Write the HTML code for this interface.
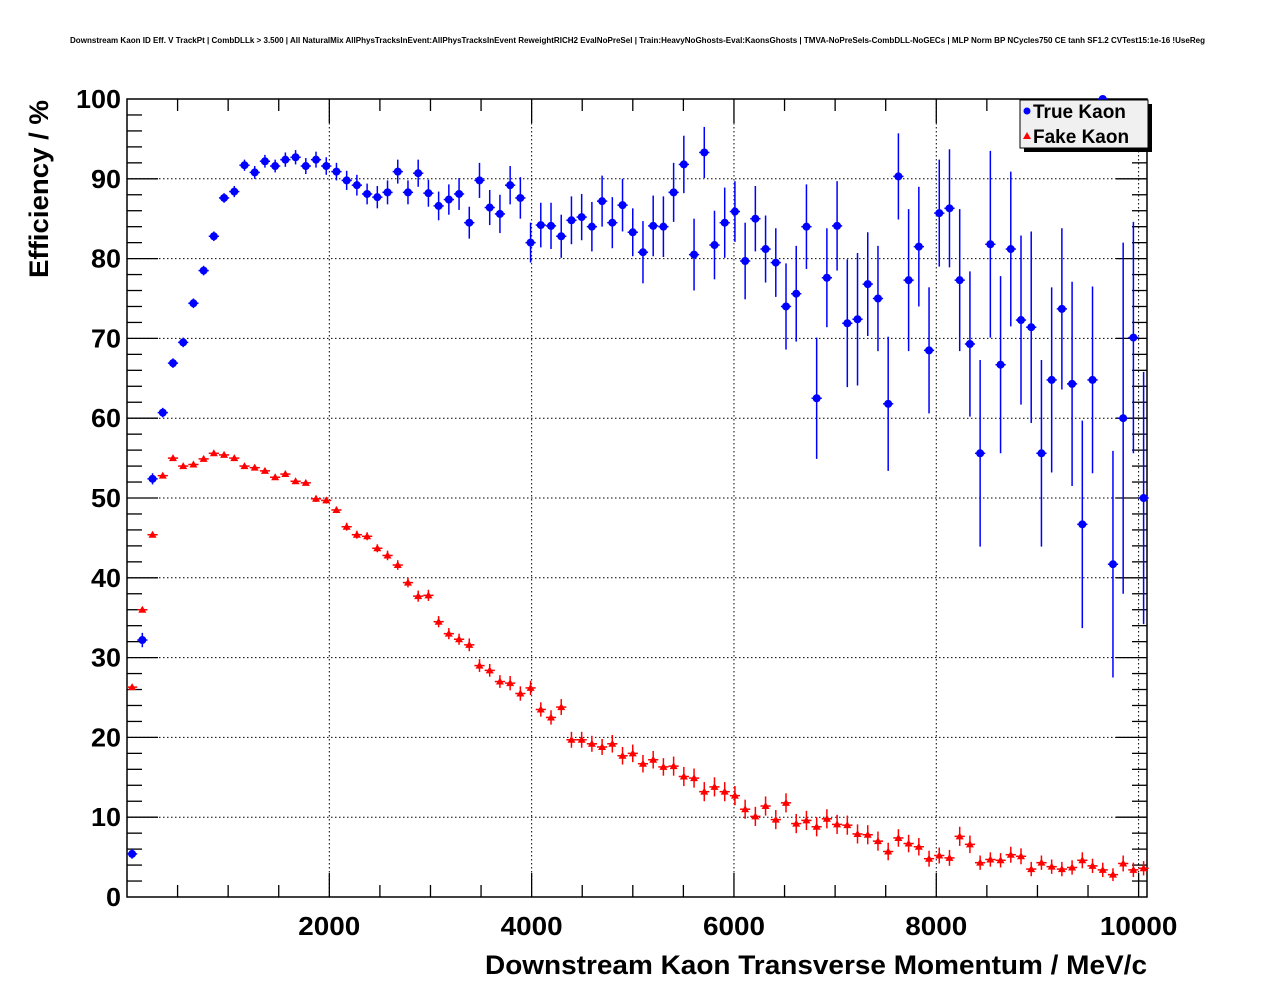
<!DOCTYPE html>
<html><head><meta charset="utf-8"><style>
body{margin:0;background:#fff;}
svg{display:block;font-family:"Liberation Sans",Arial,sans-serif;}
</style></head><body>
<svg id="chart" width="1276" height="996" viewBox="0 0 1276 996" xmlns="http://www.w3.org/2000/svg">
<rect x="0" y="0" width="1276" height="996" fill="#fff"/>
<text x="70" y="43" font-size="8" font-weight="bold" textLength="1135" lengthAdjust="spacingAndGlyphs">Downstream Kaon ID Eff. V TrackPt | CombDLLk &gt; 3.500 | All NaturalMix AllPhysTracksInEvent:AllPhysTracksInEvent ReweightRICH2 EvalNoPreSel | Train:HeavyNoGhosts-Eval:KaonsGhosts | TMVA-NoPreSels-CombDLL-NoGECs | MLP Norm BP NCycles750 CE tanh SF1.2 CVTest15:1e-16 !UseReg</text>
<g id="grid"></g>
<g id="axes"></g>
<g id="trueSeries"></g>
<g id="fakeSeries"></g>
<text x="485" y="974" font-size="27" font-weight="bold" textLength="662" lengthAdjust="spacingAndGlyphs">Downstream Kaon Transverse Momentum / MeV/c</text>
<text transform="translate(48,278) rotate(-90)" font-size="27" font-weight="bold" textLength="178" lengthAdjust="spacingAndGlyphs">Efficiency / %</text>
<g>
<rect x="1024" y="104" width="128" height="48" fill="#000"/>
<rect x="1020" y="100" width="128" height="48" fill="#f0f0f0" stroke="#000" stroke-width="1"/>
<circle cx="1027" cy="111" r="3.5" fill="#0000ff"/>
<text x="1033" y="118" font-size="19" font-weight="bold">True Kaon</text>
<polygon points="1023,139 1027,132 1031,139" fill="#ff0000"/>
<text x="1033" y="143" font-size="19" font-weight="bold">Fake Kaon</text>
</g>
</svg>
<script>
const binWidth = 101;
const trueVals = [5.4,32.2,52.4,60.7,66.9,69.5,74.4,78.5,82.8,87.6,
88.4,91.7,90.8,92.2,91.6,92.4,92.7,91.6,92.4,91.6,
90.9,89.8,89.2,88.1,87.7,88.3,90.9,88.3,90.7,88.2,
86.6,87.4,88.1,84.5,89.8,86.4,85.6,89.2,87.6,82.0,
84.2,84.1,82.8,84.8,85.2,84.0,87.2,84.5,86.7,83.3,
80.8,84.1,84.0,88.3,91.8,80.5,93.3,81.7,84.5,85.9,
79.7,85.0,81.2,79.5,74.0,75.6,84.0,62.5,77.6,84.1,
71.9,72.4,76.8,75.0,61.8,90.3,77.3,81.5,68.5,85.7,
86.3,77.3,69.3,55.6,81.8,66.7,81.2,72.3,71.4,55.6,
64.8,73.7,64.3,46.7,64.8,100,41.7,60.0,70.1,50.0];
const trueErrs = [0.6,0.9,0.7,0.6,0.6,0.6,0.6,0.6,0.6,0.6,
0.7,0.7,0.8,0.8,0.8,0.9,0.9,1.0,1.0,1.1,
1.1,1.2,1.3,1.3,1.4,1.5,1.5,1.5,1.7,1.7,
1.8,1.9,2.0,2.0,2.2,2.2,2.4,2.4,2.6,2.5,
2.8,2.9,2.7,3.0,2.9,3.1,3.2,3.2,3.3,3.0,
3.9,3.8,3.8,3.7,3.6,4.5,3.2,4.3,4.4,3.8,
4.8,4.1,4.2,4.3,5.4,6.0,5.3,7.6,6.2,5.6,
8.0,8.3,6.5,6.6,8.4,5.4,8.9,7.5,7.9,6.7,
7.4,8.9,9.1,11.7,11.7,11.1,9.7,10.6,12.0,11.7,
11.6,10.1,12.8,13.0,11.7,0,14.2,22.0,14.5,15.8];
const fakeVals = [26.3,36.0,45.4,52.8,55.0,54.0,54.2,54.9,55.6,55.4,
55.0,54.0,53.8,53.4,52.6,53.0,52.1,51.9,49.9,49.7,
48.5,46.4,45.4,45.2,43.7,42.8,41.6,39.4,37.7,37.8,
34.5,33.0,32.3,31.6,29.0,28.4,27.0,26.8,25.5,26.2,
23.5,22.5,23.8,19.7,19.7,19.2,18.8,19.2,17.7,18.0,
16.7,17.2,16.3,16.4,15.1,14.9,13.2,13.8,13.2,12.7,
11.0,10.1,11.4,9.7,11.8,9.2,9.6,8.8,9.8,9.1,
9.0,7.9,7.8,7.0,5.7,7.4,6.7,6.3,4.8,5.2,
4.9,7.6,6.6,4.3,4.7,4.6,5.3,5.1,3.5,4.3,
3.8,3.5,3.7,4.6,3.9,3.4,2.8,4.2,3.4,3.6];
const fakeErrs = [0.3,0.3,0.3,0.3,0.3,0.3,0.3,0.3,0.3,0.3,
0.3,0.3,0.3,0.3,0.3,0.3,0.3,0.3,0.4,0.4,
0.4,0.5,0.5,0.5,0.5,0.6,0.6,0.6,0.7,0.7,
0.7,0.7,0.7,0.8,0.8,0.8,0.8,0.9,0.9,0.9,
0.9,0.9,1.0,1.0,1.0,1.0,1.0,1.1,1.1,1.1,
1.1,1.1,1.1,1.2,1.2,1.2,1.2,1.2,1.2,1.2,
1.2,1.2,1.2,1.2,1.2,1.2,1.2,1.2,1.2,1.2,
1.2,1.2,1.2,1.2,1.1,1.1,1.1,1.1,1.0,1.0,
1.0,1.2,1.1,0.9,0.9,0.9,1.0,1.0,0.9,0.9,
0.9,0.9,0.9,1.0,0.9,0.9,0.8,1.0,0.9,0.9];
const xTicks = [2000,4000,6000,8000,10000];
const yTicks = [0,10,20,30,40,50,60,70,80,90,100];

const NS = 'http://www.w3.org/2000/svg';
const L = 127, R = 1147, T = 99, B = 897;
const X0 = 0, X1 = 10083;
function xs(v){ return L + (v - X0) / (X1 - X0) * (R - L); }
function ys(v){ return B - v / 100 * (B - T); }
function mk(tag, attrs, parent){
  const e = document.createElementNS(NS, tag);
  for (const k in attrs) e.setAttribute(k, attrs[k]);
  parent.appendChild(e);
  return e;
}
const grid = document.getElementById('grid');
const axes = document.getElementById('axes');

xTicks.forEach(t => {
  if (t < X1 - 50) {
    const g = mk('line', {x1: xs(t), x2: xs(t), y1: T, y2: B, stroke: '#000', 'stroke-width': 1, 'stroke-dasharray': '1.5,2.5'}, grid);
    
    
  }
  const s = String(t);
  const w = s.length * 15.5;
  const lb = mk('text', {x: xs(t) - w / 2, y: 935, 'font-size': 26, 'font-weight': 'bold', textLength: w, lengthAdjust: 'spacingAndGlyphs'}, axes);
  lb.textContent = s;
  
  
});
yTicks.forEach(t => {
  if (t > 0 && t < 100) {
    const g = mk('line', {x1: L, x2: R, y1: ys(t), y2: ys(t), stroke: '#000', 'stroke-width': 1, 'stroke-dasharray': '1.5,2.5'}, grid);
    
    
  }
  const s = String(t);
  const w = s.length * 15;
  const lb = mk('text', {x: 121 - w, y: ys(t) + 9, 'font-size': 26, 'font-weight': 'bold', textLength: w, lengthAdjust: 'spacingAndGlyphs'}, axes);
  lb.textContent = s;
  
  
});
const fr = mk('rect', {x: L, y: T, width: R - L, height: B - T, fill: 'none', stroke: '#000', 'stroke-width': 1.5}, axes);


for (let v = 500; v < X1; v += 500) {
  const len = (v % 2000 === 0) ? 24 : 12;
  mk('line', {x1: xs(v), x2: xs(v), y1: B, y2: B - len, stroke: '#000', 'stroke-width': 1.3}, axes);
  mk('line', {x1: xs(v), x2: xs(v), y1: T, y2: T + len, stroke: '#000', 'stroke-width': 1.3}, axes);
}
for (let v = 2; v < 100; v += 2) {
  const len = (v % 10 === 0) ? 31 : 15;
  mk('line', {x1: L, x2: L + len, y1: ys(v), y2: ys(v), stroke: '#000', 'stroke-width': 1.3}, axes);
  mk('line', {x1: R, x2: R - len, y1: ys(v), y2: ys(v), stroke: '#000', 'stroke-width': 1.3}, axes);
}

function drawSeries(vals, errs, parent, color, kind) {
  vals.forEach((v, i) => {
    const c = (i + 0.5) * binWidth;
    const cx = xs(c), cy = ys(v);
    const xl = xs(c - binWidth / 2), xr = xs(c + binWidth / 2);
    const g = mk('g', {}, parent);
    
    
    mk('line', {x1: xl, x2: xr, y1: cy, y2: cy, stroke: color, 'stroke-width': 1.5}, g);
    const top = Math.max(T, ys(v + errs[i])), bot = Math.min(B, ys(v - errs[i]));
    mk('line', {x1: cx, x2: cx, y1: top, y2: bot, stroke: color, 'stroke-width': 1.5}, g);
    if (kind === 'true-kaon') {
      mk('circle', {cx: cx, cy: cy, r: 4, fill: color}, g);
    } else {
      mk('polygon', {points: (cx - 4) + ',' + (cy + 3) + ' ' + cx + ',' + (cy - 4) + ' ' + (cx + 4) + ',' + (cy + 3), fill: color}, g);
    }
  });
}
drawSeries(trueVals, trueErrs, document.getElementById('trueSeries'), '#0000ff', 'true-kaon');
drawSeries(fakeVals, fakeErrs, document.getElementById('fakeSeries'), '#ff0000', 'fake-kaon');
</script>
</body></html>
